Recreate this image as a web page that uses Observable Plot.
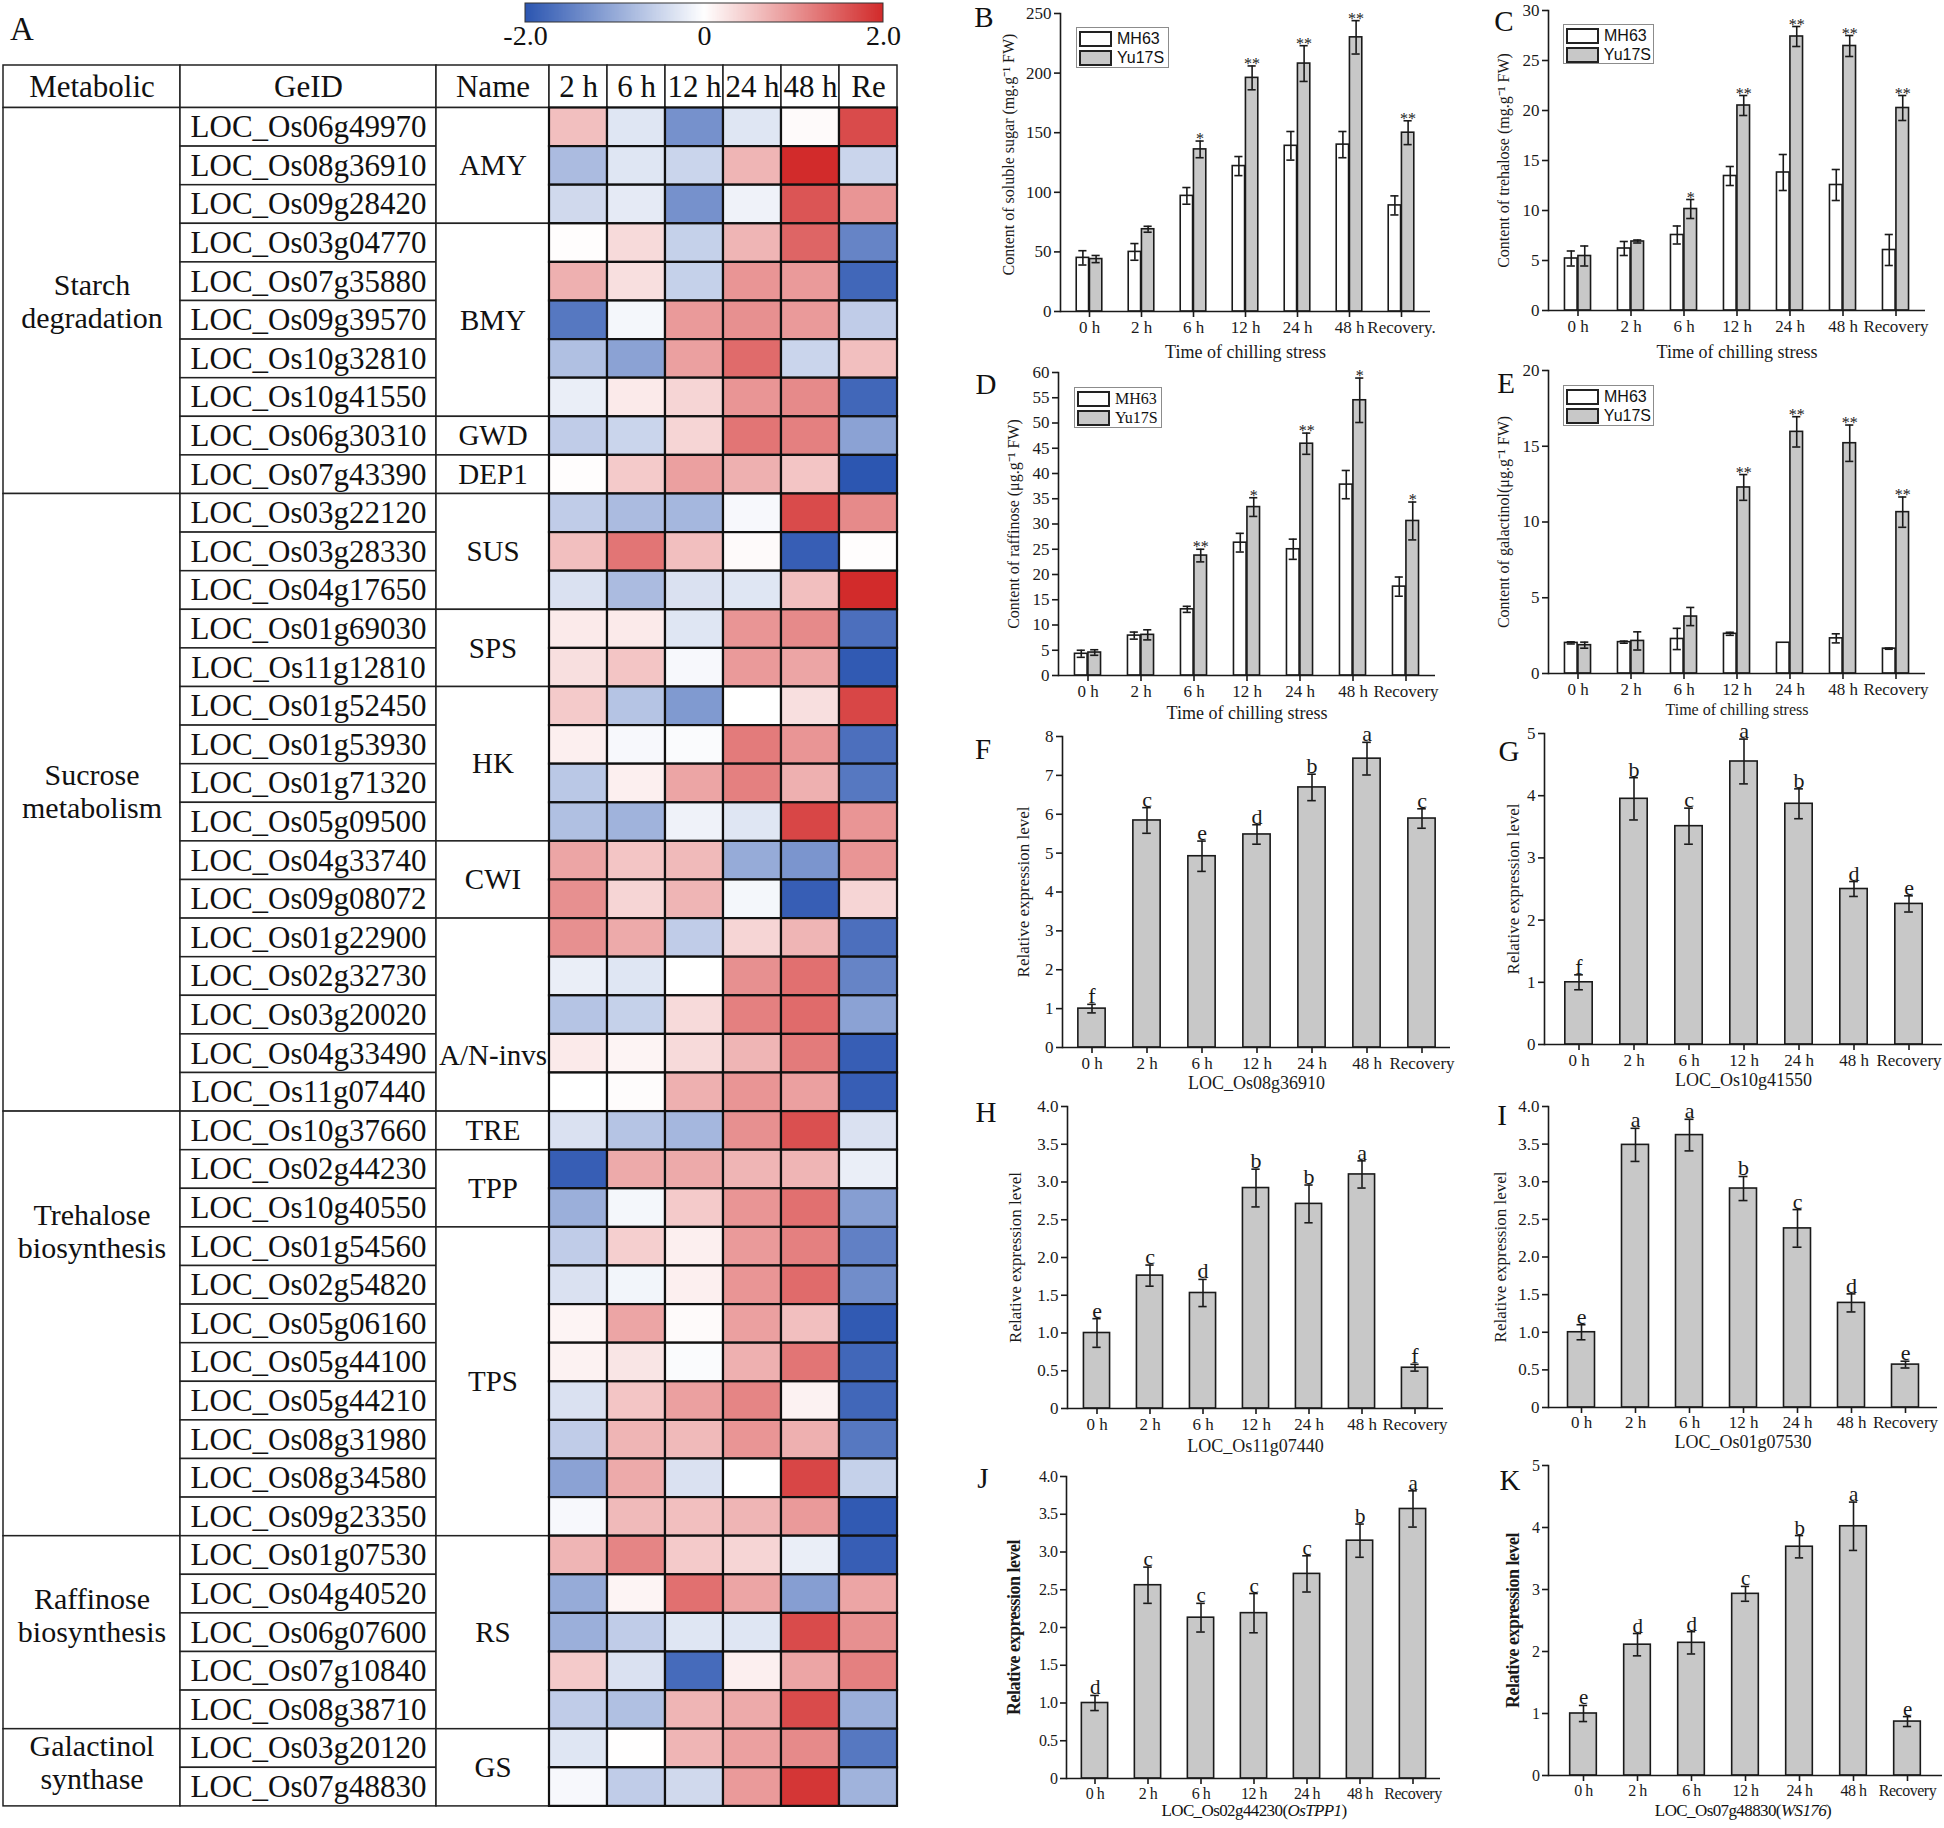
<!DOCTYPE html>
<html><head><meta charset="utf-8">
<script src="https://cdn.jsdelivr.net/npm/d3@7"></script>
<script src="https://cdn.jsdelivr.net/npm/@observablehq/plot@0.6"></script>
<style>
html,body{margin:0;padding:0;background:#fff;}
#root{position:relative;width:1944px;height:1828px;overflow:hidden;font-family:"Liberation Serif","Times New Roman",serif;color:#111;}
.letter{position:absolute;font-size:29px;line-height:1;transform:translate(-50%,-50%);}
.lg{position:absolute;box-sizing:border-box;border:1.5px solid #8c8c8c;background:#fff;padding:1px 2px;font-size:16px;line-height:1;}
.lg.sans{font-family:"Liberation Sans",Arial,sans-serif;}
.lg .r{display:flex;align-items:center;height:19px;}
.lg .sw{box-sizing:border-box;width:33px;height:16px;border:2px solid #222;margin-right:5px;}
.xt{position:absolute;font-size:17px;transform:translate(-50%,-50%);white-space:nowrap;letter-spacing:-0.6px;}
</style></head>
<body><div id="root"></div>
<script>
// ================= DATA =================
const heatCols = ["2 h","6 h","12 h","24 h","48 h","Re"];
const colorTicks = [-2, 0, 2];
const genes = ["LOC_Os06g49970","LOC_Os08g36910","LOC_Os09g28420","LOC_Os03g04770","LOC_Os07g35880","LOC_Os09g39570","LOC_Os10g32810","LOC_Os10g41550","LOC_Os06g30310","LOC_Os07g43390",
"LOC_Os03g22120","LOC_Os03g28330","LOC_Os04g17650","LOC_Os01g69030","LOC_Os11g12810","LOC_Os01g52450","LOC_Os01g53930","LOC_Os01g71320","LOC_Os05g09500","LOC_Os04g33740","LOC_Os09g08072","LOC_Os01g22900","LOC_Os02g32730","LOC_Os03g20020","LOC_Os04g33490","LOC_Os11g07440",
"LOC_Os10g37660","LOC_Os02g44230","LOC_Os10g40550","LOC_Os01g54560","LOC_Os02g54820","LOC_Os05g06160","LOC_Os05g44100","LOC_Os05g44210","LOC_Os08g31980","LOC_Os08g34580","LOC_Os09g23350",
"LOC_Os01g07530","LOC_Os04g40520","LOC_Os06g07600","LOC_Os07g10840","LOC_Os08g38710","LOC_Os03g20120","LOC_Os07g48830"];
const geneNames = ["AMY","AMY","AMY","BMY","BMY","BMY","BMY","BMY","GWD","DEP1",
"SUS","SUS","SUS","SPS","SPS","HK","HK","HK","HK","CWI","CWI","A/N-invs","A/N-invs","A/N-invs","A/N-invs","A/N-invs",
"TRE","TPP","TPP","TPS","TPS","TPS","TPS","TPS","TPS","TPS","TPS",
"RS","RS","RS","RS","RS","GS","GS"];
const metabolic = ["Starch degradation","Starch degradation","Starch degradation","Starch degradation","Starch degradation","Starch degradation","Starch degradation","Starch degradation","Starch degradation","Starch degradation",
"Sucrose metabolism","Sucrose metabolism","Sucrose metabolism","Sucrose metabolism","Sucrose metabolism","Sucrose metabolism","Sucrose metabolism","Sucrose metabolism","Sucrose metabolism","Sucrose metabolism","Sucrose metabolism","Sucrose metabolism","Sucrose metabolism","Sucrose metabolism","Sucrose metabolism","Sucrose metabolism",
"Trehalose biosynthesis","Trehalose biosynthesis","Trehalose biosynthesis","Trehalose biosynthesis","Trehalose biosynthesis","Trehalose biosynthesis","Trehalose biosynthesis","Trehalose biosynthesis","Trehalose biosynthesis","Trehalose biosynthesis","Trehalose biosynthesis",
"Raffinose biosynthesis","Raffinose biosynthesis","Raffinose biosynthesis","Raffinose biosynthesis","Raffinose biosynthesis",
"Galactinol synthase","Galactinol synthase"];
const heatValues = [
[0.6,-0.3,-1.3,-0.3,0.05,1.7],
[-0.8,-0.3,-0.5,0.7,2.0,-0.5],
[-0.45,-0.25,-1.3,-0.15,1.6,1.0],
[0.02,0.35,-0.55,0.7,1.45,-1.45],
[0.75,0.3,-0.55,1.0,0.95,-1.8],
[-1.6,-0.1,0.95,1.05,0.95,-0.6],
[-0.75,-1.1,0.9,1.4,-0.5,0.6],
[-0.2,0.2,0.4,1.0,1.1,-1.8],
[-0.6,-0.5,0.4,1.3,1.2,-1.1],
[0.02,0.5,0.9,0.75,0.55,-2.0],
[-0.6,-0.8,-0.85,-0.08,1.7,1.1],
[0.6,1.3,0.6,0.05,-1.9,0.02],
[-0.35,-0.8,-0.35,-0.3,0.6,2.0],
[0.2,0.2,-0.3,1.0,1.1,-1.7],
[0.3,0.55,-0.08,0.95,0.85,-1.95],
[0.5,-0.7,-1.2,0.0,0.3,1.75],
[0.15,-0.08,-0.05,1.25,1.0,-1.7],
[-0.65,0.15,0.85,1.2,0.75,-1.6],
[-0.75,-0.9,-0.15,-0.3,1.75,1.0],
[0.85,0.55,0.65,-1.0,-1.25,1.0],
[1.05,0.4,0.7,-0.1,-1.9,0.4],
[1.05,0.8,-0.6,0.4,0.7,-1.7],
[-0.2,-0.3,0.0,1.05,1.35,-1.45],
[-0.7,-0.55,0.35,1.2,1.4,-1.1],
[0.2,0.1,0.35,0.7,1.25,-1.9],
[0.0,0.03,0.75,1.0,0.9,-1.9],
[-0.35,-0.7,-0.85,1.05,1.65,-0.35],
[-1.9,0.8,0.8,0.7,0.7,-0.2],
[-0.95,-0.1,0.5,1.0,1.35,-1.15],
[-0.6,0.45,0.15,0.95,1.2,-1.5],
[-0.35,-0.12,0.15,1.0,1.4,-1.35],
[0.1,0.85,0.05,0.9,0.6,-1.95],
[0.12,0.25,-0.05,0.75,1.3,-1.8],
[-0.35,0.55,0.9,1.15,0.12,-1.8],
[-0.6,0.7,0.65,1.0,0.75,-1.6],
[-1.1,0.8,-0.35,0.0,1.75,-0.55],
[-0.08,0.65,0.6,0.7,0.95,-1.95],
[0.7,1.15,0.5,0.4,-0.2,-1.9],
[-1.0,0.1,1.35,0.85,-1.15,0.85],
[-0.95,-0.6,-0.3,-0.3,1.7,1.05],
[0.5,-0.35,-1.75,0.15,0.85,1.2],
[-0.6,-0.75,0.7,0.8,1.7,-0.95],
[-0.3,0.01,0.7,0.9,1.1,-1.6],
[-0.08,-0.6,-0.45,0.95,1.9,-0.9]
];

const times = ["0 h","2 h","6 h","12 h","24 h","48 h","Recovery"];
const timeLabelsB = ["0 h","2 h","6 h","12 h","24 h","48 h","Recovery."];
const cultivars = ["MH63","Yu17S"];

// B soluble sugar (mg/g FW)
const sugarMH63 = [45, 50, 97, 122, 139, 140, 89];
const sugarMH63Err = [6, 7, 7, 8, 12, 11, 8];
const sugarYu17S = [44, 69, 136, 196, 208, 230, 150];
const sugarYu17SErr = [3, 2.5, 7, 10, 15, 14, 10];
const sugarSig = ["", "", "*", "**", "**", "**", "**"];
// C trehalose (mg/g FW)
const trehMH63 = [5.2, 6.2, 7.55, 13.45, 13.8, 12.55, 6.05];
const trehMH63Err = [0.75, 0.7, 0.9, 0.95, 1.8, 1.55, 1.55];
const trehYu17S = [5.45, 6.9, 10.15, 20.5, 27.4, 26.45, 20.25];
const trehYu17SErr = [1.0, 0.15, 0.95, 1.0, 1.0, 1.05, 1.25];
const trehSig = ["", "", "*", "**", "**", "**", "**"];
// D raffinose (ug/g FW)
const raffMH63 = [4.3, 7.9, 13.1, 26.3, 25.0, 37.8, 17.6];
const raffMH63Err = [0.7, 0.7, 0.6, 1.85, 2.0, 2.8, 1.9];
const raffYu17S = [4.55, 8.05, 23.75, 33.35, 45.9, 54.5, 30.6];
const raffYu17SErr = [0.55, 1.0, 1.25, 1.85, 2.1, 4.4, 3.75];
const raffSig = ["", "", "**", "*", "**", "*", "*"];
// E galactinol (ug/g FW)
const galMH63 = [2.02, 2.07, 2.28, 2.62, 2.03, 2.32, 1.64];
const galMH63Err = [0.07, 0.07, 0.7, 0.1, 0, 0.3, 0.04];
const galYu17S = [1.87, 2.15, 3.76, 12.28, 15.95, 15.2, 10.65];
const galYu17SErr = [0.2, 0.6, 0.6, 0.85, 1.0, 1.2, 1.0];
const galSig = ["", "", "", "**", "**", "**", "**"];
// F-K relative expression
const exprOs08g36910 = [1.0, 5.84, 4.92, 5.48, 6.69, 7.43, 5.89];
const errOs08g36910 = [0.11, 0.33, 0.39, 0.25, 0.34, 0.42, 0.25];
const lettersOs08g36910 = ["f","c","e","d","b","a","c"];
const exprOs10g41550 = [1.0, 3.95, 3.51, 4.55, 3.87, 2.5, 2.26];
const errOs10g41550 = [0.12, 0.34, 0.29, 0.36, 0.24, 0.12, 0.13];
const lettersOs10g41550 = ["f","b","c","a","b","d","e"];
const exprOs11g07440 = [1.0, 1.76, 1.53, 2.92, 2.71, 3.1, 0.54];
const errOs11g07440 = [0.19, 0.14, 0.18, 0.25, 0.25, 0.18, 0.045];
const lettersOs11g07440 = ["e","c","d","b","b","a","f"];
const exprOs01g07530 = [1.0, 3.49, 3.62, 2.91, 2.38, 1.39, 0.57];
const errOs01g07530 = [0.1, 0.22, 0.21, 0.16, 0.25, 0.12, 0.045];
const lettersOs01g07530 = ["e","a","a","b","c","d","e"];
const exprOs02g44230 = [1.0, 2.56, 2.13, 2.19, 2.71, 3.15, 3.57];
const errOs02g44230 = [0.1, 0.24, 0.19, 0.26, 0.24, 0.22, 0.24];
const lettersOs02g44230 = ["d","c","c","c","c","b","a"];
const exprOs07g48830 = [1.0, 2.11, 2.14, 2.93, 3.69, 4.02, 0.87];
const errOs07g48830 = [0.13, 0.18, 0.18, 0.12, 0.18, 0.39, 0.08];
const lettersOs07g48830 = ["e","d","d","c","b","a","e"];

// ================= STYLE / LAYOUT =================
const SERIF = "Liberation Serif";
const INK = "#1a1a1a";
const cultivarFill = ["#ffffff", "#c8c8c8"];
const barGrey = "#c8c8c8";
const heatColor = {type: "linear", domain: [-2, 0, 2], range: ["#2c56b1", "#ffffff", "#d22b2b"]};
const root = document.getElementById("root");

function place(node, left, top) {
  const d = document.createElement("div");
  d.style.position = "absolute"; d.style.left = left + "px"; d.style.top = top + "px";
  d.appendChild(node); root.appendChild(d); return d;
}
function htmlText(cls, html, x, y, extra) {
  const d = document.createElement("div");
  d.className = cls; d.innerHTML = html;
  d.style.left = x + "px"; d.style.top = y + "px";
  if (extra) Object.assign(d.style, extra);
  root.appendChild(d);
}
function runs(arr) {
  const out = [];
  arr.forEach((v, i) => {
    if (i > 0 && arr[i - 1] === v) out[out.length - 1].end = i + 1;
    else out.push({label: v, start: i, end: i + 1});
  });
  return out;
}

// ================= PANEL A: heat table =================
const T = {top: 64.5, header: 42.5, row: 38.6, edges: [3, 180, 436, 549, 897]};
const nRows = genes.length;
const hy = -T.header / T.row;
const tableH = T.header + nRows * T.row;
const PAD = 3;
const metaLabelRow = {"Sucrose metabolism": 17.7, "Trehalose biosynthesis": 29.1, "Raffinose biosynthesis": 39.05, "Galactinol synthase": 42.85};
const nameLabelRow = {"A/N-invs": 24.55};
const metaRuns = runs(metabolic);
const nameRuns = runs(geneNames);
const heatData = genes.flatMap((g, i) => heatCols.map((c, j) => ({gene: g, row: i, col: c, value: heatValues[i][j]})));
const lineOpts = {fill: "white", stroke: "#222", strokeWidth: 1.5};

function tableColumn(x0, x1, extra, marks) {
  const svg = Plot.plot(Object.assign({
    width: x1 - x0 + 2 * PAD, height: tableH + 2 * PAD, margin: PAD,
    y: {domain: [hy, nRows], reverse: true, axis: null},
    style: {fontFamily: SERIF, background: "transparent", overflow: "visible", color: "#111"},
    marks
  }, extra));
  place(svg, x0 - PAD, T.top - PAD);
}
const hdr = (label, fs) => [
  Plot.barY([label], {y1: hy, y2: 0, ...lineOpts}),
  Plot.text([label], {y: hy / 2, text: d => d, fontSize: fs})
];
tableColumn(T.edges[0], T.edges[1], {}, [
  ...hdr("Metabolic", 31),
  Plot.barY(metaRuns, {y1: "start", y2: "end", ...lineOpts}),
  Plot.text(metaRuns, {y: d => metaLabelRow[d.label] ?? (d.start + d.end) / 2, text: d => d.label.replace(" ", "\n"), fontSize: 30, lineHeight: 1.08})
]);
tableColumn(T.edges[1], T.edges[2], {}, [
  ...hdr("GeID", 31),
  Plot.barY(genes, {y1: (d, i) => i, y2: (d, i) => i + 1, ...lineOpts}),
  Plot.text(genes, {y: (d, i) => i + 0.5, text: d => d, fontSize: 31})
]);
tableColumn(T.edges[2], T.edges[3], {}, [
  ...hdr("Name", 31),
  Plot.barY(nameRuns, {y1: "start", y2: "end", ...lineOpts}),
  Plot.text(nameRuns, {y: d => nameLabelRow[d.label] ?? (d.start + d.end) / 2, text: "label", fontSize: 29})
]);
tableColumn(T.edges[3], T.edges[4], {x: {type: "band", domain: heatCols, padding: 0, axis: null}, color: heatColor}, [
  Plot.barY(heatCols, {x: d => d, y1: hy, y2: 0, ...lineOpts}),
  Plot.text(heatCols, {x: d => d, y: hy / 2, text: d => d, fontSize: 31}),
  Plot.barY(heatData, {x: "col", y1: "row", y2: d => d.row + 1, fill: "value", stroke: "#111", strokeWidth: 2.2})
]);

// colour bar
{
  const lg = Plot.legend({
    color: heatColor, legend: "ramp", label: null,
    width: 418, height: 62, marginTop: 3, marginBottom: 40, marginLeft: 30, marginRight: 30,
    ticks: colorTicks, tickSize: 0, tickFormat: d => d === 0 ? "0" : d.toFixed(1),
    style: {fontFamily: SERIF, fontSize: "28px", color: "#111", background: "transparent", overflow: "visible"}
  });
  lg.querySelectorAll(".tick line").forEach(l => l.remove());
  const img = lg.querySelector("image");
  if (img) {
    const r = document.createElementNS("http://www.w3.org/2000/svg", "rect");
    for (const a of ["x", "y", "width", "height"]) r.setAttribute(a, img.getAttribute(a));
    r.setAttribute("fill", "none"); r.setAttribute("stroke", "#333"); r.setAttribute("stroke-width", "1");
    img.parentNode.appendChild(r);
  }
  place(lg, 495, 0);
}
htmlText("letter", "A", 22, 29, {fontSize: "33px"});

// ================= PANELS B–K: bar charts =================
function barPanel(c) {
  const n = times.length;
  const po = c.po || 0;
  const step = (c.w - c.ml - c.mr) / (n + 2 * po);
  const cap = c.cap || 9;
  const two = c.series.length === 2;
  const bw = two ? step / 4 : step / 2;
  const lw = 1.6;
  const fs = c.fs || 17;
  const labelOf = new Map(times.map((t, i) => [t, c.tickLabels[i]]));
  const marks = [];
  c.series.forEach((s, si) => {
    const off = two ? (si === 0 ? -bw / 2 : bw / 2) : 0;
    const rows = times.map((t, i) => ({t, v: s.values[i], e: s.errs[i], mark: s.marks ? s.marks[i] : ""}));
    marks.push(Plot.barY(rows, {x: "t", y: "v", fill: s.fill, stroke: INK, strokeWidth: lw,
      insetLeft: step / 2 + off - bw / 2, insetRight: step / 2 - off - bw / 2}));
    const er = rows.filter(d => d.e > 0);
    marks.push(Plot.ruleX(er, {x: "t", y1: d => d.v - d.e, y2: d => d.v + d.e, dx: off, stroke: INK, strokeWidth: lw}));
    for (const sgn of [1, -1])
      marks.push(Plot.tickY(er, {x: "t", y: d => d.v + sgn * d.e, insetLeft: step / 2 + off - cap / 2, insetRight: step / 2 - off - cap / 2, stroke: INK, strokeWidth: lw}));
    if (s.marks)
      marks.push(Plot.text(rows.filter(d => d.mark), {x: "t", y: d => d.v + d.e, dx: off, dy: c.markDy ?? -1, lineAnchor: "bottom", text: "mark", fontSize: c.markSize || 16}));
  });
  marks.push(Plot.ruleY([c.yDomain[0]], {stroke: INK, strokeWidth: lw}));
  marks.push(Plot.frame({anchor: "left", stroke: INK, strokeWidth: lw}));
  marks.push(Plot.axisY({ticks: c.yTicks, tickFormat: c.yFmt || (d => String(d)), tickSize: 6, tickPadding: 3, fontSize: fs, label: null, strokeWidth: lw}));
  marks.push(Plot.axisX({tickSize: 6, tickPadding: c.xPad ?? 3, fontSize: fs, tickFormat: d => labelOf.get(d), label: null, strokeWidth: lw}));
  marks.push(Plot.text([c.yLabel], {frameAnchor: "left", rotate: -90, dx: c.yLabelDx, dy: c.yLabelDy || 0, textAnchor: "middle", lineAnchor: "middle", fontSize: c.yLabelSize || fs, fontWeight: c.yLabelWeight || "normal", text: d => d}));
  if (c.xTitle) marks.push(Plot.text([c.xTitle], {frameAnchor: "bottom", dy: c.xTitleDy, textAnchor: "middle", lineAnchor: "middle", fontSize: c.xTitleSize || 18, text: d => d}));
  const svg = Plot.plot({
    width: c.w, height: c.h, marginLeft: c.ml, marginRight: c.mr, marginTop: c.mt, marginBottom: c.mb,
    x: {type: "band", domain: times, paddingInner: 0, paddingOuter: po},
    y: {domain: c.yDomain},
    style: Object.assign({fontFamily: SERIF, fontSize: fs + "px", color: INK, background: "transparent", overflow: "visible"}, c.style || {}),
    marks
  });
  place(svg, c.left, c.top);
}
function pairLegend(left, top, w, h, sans) {
  const d = document.createElement("div");
  d.className = "lg" + (sans ? " sans" : "");
  Object.assign(d.style, {left: left + "px", top: top + "px", width: w + "px", height: h + "px"});
  d.innerHTML = cultivars.map((c, i) => `<div class="r"><span class="sw" style="background:${cultivarFill[i]}"></span>${c}</div>`).join("");
  root.appendChild(d);
}
const pair = (a, ae, b, be, sig) => [
  {values: a, errs: ae, fill: cultivarFill[0]},
  {values: b, errs: be, fill: cultivarFill[1], marks: sig}
];
const oneDec = d => d === 0 ? "0" : d.toFixed(1);

// B
barPanel({left: 990, top: 0, w: 460, h: 370, ml: 70, mr: 20, mt: 13, mb: 59, markDy: 3,
  yDomain: [0, 250], yTicks: [0, 50, 100, 150, 200, 250], tickLabels: timeLabelsB,
  yLabel: "Content of soluble sugar (mg.g⁻¹ FW)", yLabelDx: -52, yLabelDy: -8, yLabelSize: 16,
  xTitle: "Time of chilling stress", xTitleDy: 41,
  series: pair(sugarMH63, sugarMH63Err, sugarYu17S, sugarYu17SErr, sugarSig)});
pairLegend(1076, 27, 93, 41, true);
// C
barPanel({left: 1480, top: 0, w: 464, h: 370, ml: 68, mr: 19, mt: 10, mb: 60, markDy: 3,
  yDomain: [0, 30], yTicks: [0, 5, 10, 15, 20, 25, 30], tickLabels: times,
  yLabel: "Content of trehalose (mg.g⁻¹ FW)", yLabelDx: -45, yLabelSize: 16,
  xTitle: "Time of chilling stress", xTitleDy: 42,
  series: pair(trehMH63, trehMH63Err, trehYu17S, trehYu17SErr, trehSig)});
pairLegend(1563, 24, 91, 40, true);
// D
barPanel({left: 990, top: 360, w: 460, h: 360, ml: 68, mr: 15, mt: 12, mb: 45, markDy: 3,
  yDomain: [0, 60], yTicks: [0, 5, 10, 15, 20, 25, 30, 35, 40, 45, 50, 55, 60], tickLabels: times,
  yLabel: "Content of raffinose (μg.g⁻¹ FW)", yLabelDx: -45, yLabelSize: 16,
  xTitle: "Time of chilling stress", xTitleDy: 38,
  series: pair(raffMH63, raffMH63Err, raffYu17S, raffYu17SErr, raffSig)});
pairLegend(1074, 387, 88, 41, false);
// E
barPanel({left: 1480, top: 360, w: 464, h: 360, ml: 68, mr: 19, mt: 10, mb: 47, markDy: 3,
  yDomain: [0, 20], yTicks: [0, 5, 10, 15, 20], tickLabels: times,
  yLabel: "Content of galactinol(μg.g⁻¹ FW)", yLabelDx: -45, yLabelSize: 16,
  xTitle: "Time of chilling stress", xTitleDy: 36, xTitleSize: 16,
  series: pair(galMH63, galMH63Err, galYu17S, galYu17SErr, galSig)});
pairLegend(1563, 385, 91, 41, true);
// F
barPanel({left: 990, top: 720, w: 470, h: 370, ml: 72, mr: 10, mt: 16, mb: 43,
  yDomain: [0, 8], yTicks: [0, 1, 2, 3, 4, 5, 6, 7, 8], tickLabels: times,
  yLabel: "Relative expression level", yLabelDx: -39,
  xTitle: "LOC_Os08g36910", xTitleDy: 36, markSize: 22,
  series: [{values: exprOs08g36910, errs: errOs08g36910, fill: barGrey, marks: lettersOs08g36910}]});
// G
barPanel({left: 1480, top: 720, w: 464, h: 370, ml: 64, mr: 2, mt: 13, mb: 46, po: 0.1,
  yDomain: [0, 5], yTicks: [0, 1, 2, 3, 4, 5], tickLabels: times,
  yLabel: "Relative expression level", yLabelDx: -31,
  xTitle: "LOC_Os10g41550", xTitleDy: 36, markSize: 22,
  series: [{values: exprOs10g41550, errs: errOs10g41550, fill: barGrey, marks: lettersOs10g41550}]});
// H
barPanel({left: 990, top: 1090, w: 470, h: 370, ml: 77, mr: 17, mt: 16, mb: 52,
  yDomain: [0, 4], yTicks: [0, 0.5, 1, 1.5, 2, 2.5, 3, 3.5, 4], yFmt: oneDec, tickLabels: times,
  yLabel: "Relative expression level", yLabelDx: -52,
  xTitle: "LOC_Os11g07440", xTitleDy: 38, markSize: 22,
  series: [{values: exprOs11g07440, errs: errOs11g07440, fill: barGrey, marks: lettersOs11g07440}]});
// I
barPanel({left: 1480, top: 1090, w: 464, h: 370, ml: 68, mr: 7, mt: 16, mb: 53, po: 0.1, xPad: 2,
  yDomain: [0, 4], yTicks: [0, 0.5, 1, 1.5, 2, 2.5, 3, 3.5, 4], yFmt: oneDec, tickLabels: times,
  yLabel: "Relative expression level", yLabelDx: -48,
  xTitle: "LOC_Os01g07530", xTitleDy: 35, markSize: 22,
  series: [{values: exprOs01g07530, errs: errOs01g07530, fill: barGrey, marks: lettersOs01g07530}]});
// J
barPanel({left: 990, top: 1450, w: 460, h: 378, ml: 76, mr: 10, mt: 26, mb: 50,
  yDomain: [0, 4], yTicks: [0, 0.5, 1, 1.5, 2, 2.5, 3, 3.5, 4], yFmt: oneDec, tickLabels: times, fs: 16,
  yLabel: "Relative expression level", yLabelDx: -52, yLabelWeight: "bold", yLabelSize: 18,
  markSize: 21, style: {letterSpacing: "-0.5px"},
  series: [{values: exprOs02g44230, errs: errOs02g44230, fill: barGrey, marks: lettersOs02g44230}]});
htmlText("xt", "LOC_Os02g44230(<i>OsTPP1</i>)", 1254, 1811);
// K
barPanel({left: 1480, top: 1450, w: 464, h: 378, ml: 68, mr: 2, mt: 15, mb: 53, po: 0.1,
  yDomain: [0, 5], yTicks: [0, 1, 2, 3, 4, 5], tickLabels: times, fs: 16,
  yLabel: "Relative expression level", yLabelDx: -35, yLabelWeight: "bold", yLabelSize: 18,
  markSize: 21, style: {letterSpacing: "-0.5px"},
  series: [{values: exprOs07g48830, errs: errOs07g48830, fill: barGrey, marks: lettersOs07g48830}]});
htmlText("xt", "LOC_Os07g48830(<i>WS176</i>)", 1743, 1811);

// panel letters
[["B", 984, 17], ["C", 1504, 21], ["D", 986, 384], ["E", 1506, 383], ["F", 983, 749], ["G", 1509, 751],
 ["H", 986, 1112], ["I", 1502, 1115], ["J", 983, 1478], ["K", 1510, 1480]]
  .forEach(([t, x, y]) => htmlText("letter", t, x, y));
</script>
</body></html>
